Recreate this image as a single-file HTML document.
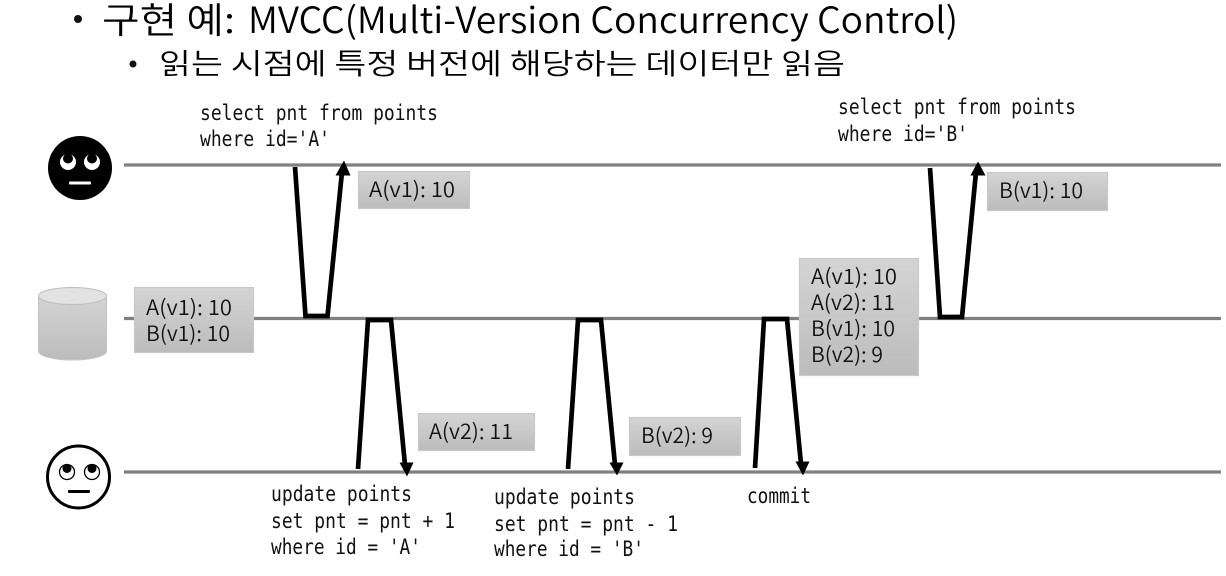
<!DOCTYPE html>
<html><head><meta charset="utf-8"><style>
html,body{margin:0;padding:0;background:#fff;width:1226px;height:576px;overflow:hidden}
svg{display:block}
.t{font-family:"Noto Sans CJK KR","Liberation Sans",sans-serif;fill:#000;font-weight:350}
.b{font-family:"Noto Sans CJK KR","Liberation Sans",sans-serif;font-size:21px;fill:#111;font-weight:350}
.m{font-family:"DejaVu Sans Mono","Liberation Mono",monospace;font-size:21px;fill:#111}
.box{fill:url(#g);stroke:#c9c9c9;stroke-width:1.2}
.a{fill:none;stroke:#000;stroke-width:4.7;stroke-linejoin:miter}
</style></head><body>
<svg width="1226" height="576" viewBox="0 0 1226 576" xmlns="http://www.w3.org/2000/svg">
<defs>
<linearGradient id="g" x1="0" y1="0" x2="0" y2="1"><stop offset="0" stop-color="#d4d4d4"/><stop offset="1" stop-color="#bcbcbc"/></linearGradient>
</defs>

<circle cx="78" cy="19" r="4" fill="#111"/>
<text class="t" x="102" y="33" font-size="36" textLength="133" lengthAdjust="spacingAndGlyphs">구현 예:</text>
<text class="t" x="248" y="33" font-size="36" textLength="710" lengthAdjust="spacingAndGlyphs">MVCC(Multi-Version Concurrency Control)</text>
<circle cx="133" cy="64" r="3.5" fill="#111"/>
<text class="t" x="159" y="74" font-size="29" textLength="686" lengthAdjust="spacingAndGlyphs">읽는 시점에 특정 버전에 해당하는 데이터만 읽음</text>

<g stroke="#808080" stroke-width="3.3">
<line x1="124" y1="165" x2="1221" y2="165"/>
<line x1="124" y1="318.5" x2="1221" y2="318.5"/>
<line x1="124" y1="472" x2="1221" y2="472"/>
</g>

<!-- faces -->
<circle cx="80" cy="168" r="32" fill="#000"/>
<circle cx="68" cy="162" r="8" fill="#fff"/><circle cx="68" cy="158.5" r="5" fill="#000"/>
<circle cx="92" cy="162" r="8" fill="#fff"/><circle cx="92" cy="158.5" r="5" fill="#000"/>
<rect x="69" y="181.5" width="22" height="3" rx="1" fill="#fff"/>

<circle cx="78.5" cy="477" r="31" fill="#fff" stroke="#000" stroke-width="3"/>
<circle cx="67" cy="472" r="7.5" fill="#fff" stroke="#000" stroke-width="1.3"/><circle cx="67" cy="468.5" r="4.5" fill="#000"/>
<circle cx="92" cy="472" r="7.5" fill="#fff" stroke="#000" stroke-width="1.3"/><circle cx="92" cy="468.5" r="4.5" fill="#000"/>
<rect x="68" y="490" width="22" height="3" rx="1" fill="#000"/>

<!-- cylinder -->
<path d="M38.5 296 V351 A34 9 0 0 0 106.5 351 V296 Z" fill="url(#g)" stroke="#c4c4c4"/>
<ellipse cx="72.5" cy="296" rx="34" ry="8.5" fill="#e2e2e2" stroke="#bdbdbd"/>

<!-- boxes -->
<rect class="box" x="358.5" y="171.5" width="111" height="37"/>
<rect class="box" x="134.5" y="287.5" width="119" height="65"/>
<rect class="box" x="418.5" y="413.5" width="116" height="37"/>
<rect class="box" x="629.5" y="417.5" width="111" height="38"/>
<rect class="box" x="799.5" y="258.5" width="119" height="117"/>
<rect class="box" x="987.5" y="172.5" width="120" height="38"/>

<text class="b" x="369" y="197" textLength="86" lengthAdjust="spacingAndGlyphs">A(v1): 10</text>
<text class="b" x="146" y="315" textLength="86" lengthAdjust="spacingAndGlyphs">A(v1): 10</text>
<text class="b" x="146" y="341" textLength="84" lengthAdjust="spacingAndGlyphs">B(v1): 10</text>
<text class="b" x="429" y="439" textLength="84" lengthAdjust="spacingAndGlyphs">A(v2): 11</text>
<text class="b" x="641" y="443" textLength="72" lengthAdjust="spacingAndGlyphs">B(v2): 9</text>
<text class="b" x="811" y="284" textLength="86" lengthAdjust="spacingAndGlyphs">A(v1): 10</text>
<text class="b" x="811" y="310" textLength="84" lengthAdjust="spacingAndGlyphs">A(v2): 11</text>
<text class="b" x="811" y="336" textLength="84" lengthAdjust="spacingAndGlyphs">B(v1): 10</text>
<text class="b" x="811" y="362" textLength="72" lengthAdjust="spacingAndGlyphs">B(v2): 9</text>
<text class="b" x="999" y="198" textLength="84" lengthAdjust="spacingAndGlyphs">B(v1): 10</text>

<!-- connectors -->
<path class="a" d="M295 167 L305.5 316 H327.5 L342 172"/>
<path d="M344 160.5 L335.5 175.5 H350.5 Z" fill="#000"/>
<path class="a" d="M358 469 L368 320 H391 L405 465"/>
<path d="M407 476.5 L399.5 462.5 H413.5 Z" fill="#000"/>
<path class="a" d="M568 469 L578 320 H601 L615 465"/>
<path d="M617 475.5 L609.5 462.5 H623.5 Z" fill="#000"/>
<path class="a" d="M755 468 L764 319 H787 L801 464"/>
<path d="M803 475.5 L795.5 461.5 H809.5 Z" fill="#000"/>
<path class="a" d="M930 168 L940 317 H962 L976 172"/>
<path d="M978 161.5 L970.5 175.5 H985.5 Z" fill="#000"/>

<!-- SQL -->
<text class="m" x="200" y="120" textLength="238" lengthAdjust="spacingAndGlyphs">select pnt from points</text>
<text class="m" x="200" y="146" textLength="130" lengthAdjust="spacingAndGlyphs">where id='A'</text>
<text class="m" x="838" y="114" textLength="238" lengthAdjust="spacingAndGlyphs">select pnt from points</text>
<text class="m" x="838" y="141" textLength="130" lengthAdjust="spacingAndGlyphs">where id='B'</text>
<text class="m" x="271" y="501" textLength="141" lengthAdjust="spacingAndGlyphs">update points</text>
<text class="m" x="271" y="528" textLength="184" lengthAdjust="spacingAndGlyphs">set pnt = pnt + 1</text>
<text class="m" x="271" y="554" textLength="150" lengthAdjust="spacingAndGlyphs">where id = 'A'</text>
<text class="m" x="494" y="504" textLength="141" lengthAdjust="spacingAndGlyphs">update points</text>
<text class="m" x="494" y="531" textLength="184" lengthAdjust="spacingAndGlyphs">set pnt = pnt - 1</text>
<text class="m" x="494" y="556" textLength="150" lengthAdjust="spacingAndGlyphs">where id = 'B'</text>
<text class="m" x="747" y="503" textLength="64" lengthAdjust="spacingAndGlyphs">commit</text>
</svg>
</body></html>
